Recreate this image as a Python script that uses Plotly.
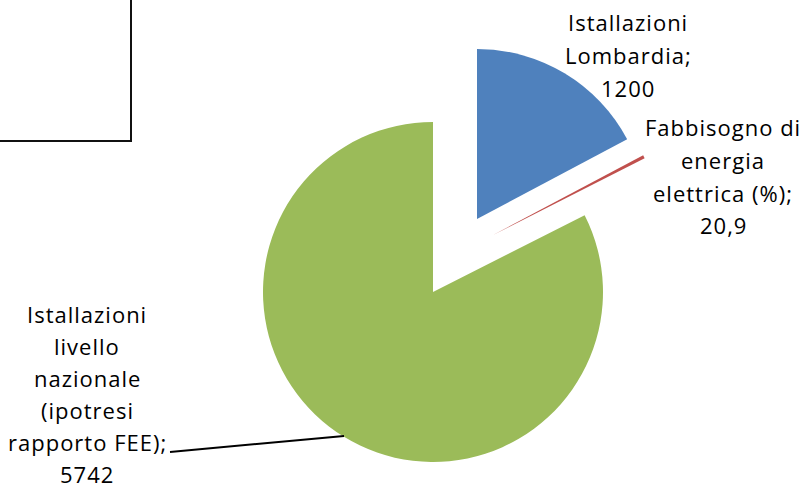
import plotly.graph_objects as go

# ---- data ----
categories = ["Istallazioni Lombardia",
              "Fabbisogno di energia elettrica (%)",
              "Istallazioni livello nazionale (ipotresi rapporto FEE)"]
values = [1200, 20.9, 5742]
value_labels = ["1200", "20,9", "5742"]
label_lines = [["Istallazioni", "Lombardia;"],
               ["Fabbisogno di", "energia", "elettrica (%);"],
               ["Istallazioni", "livello", "nazionale", "(ipotresi", "rapporto FEE);"]]
colors = ["#4F81BD", "#C0504D", "#9BBB59"]

W, H = 803, 488
R = 170
# slice centres (px) - the exploded slices are drawn with shifted centres
centres = [(477, 219), (493, 235), (433, 292)]
# label first-line centres (px) and line pitch
label_pos = [(628, 22, 32.8), (723, 127, 32.8), (87, 313.5, 32.0)]


def domain(cx, cy, r):
    return dict(x=[(cx - r) / W, (cx + r) / W],
                y=[1 - (cy + r) / H, 1 - (cy - r) / H])


fig = go.Figure()
for i, (cx, cy) in enumerate(centres):
    cols = ["rgba(0,0,0,0)"] * len(values)
    cols[i] = colors[i]
    fig.add_trace(go.Pie(
        labels=categories, values=values, sort=False,
        direction="clockwise", rotation=0,
        marker=dict(colors=cols, line=dict(width=0)),
        textinfo="none", hoverinfo="label+value",
        domain=domain(cx, cy, R), showlegend=False,
    ))

for i, (lx, ly, pitch) in enumerate(label_pos):
    lines = label_lines[i] + [value_labels[i]]
    for k, line in enumerate(lines):
        fig.add_annotation(x=lx / W, y=1 - (ly + k * pitch) / H, xref="paper", yref="paper",
                           text='<span style="letter-spacing:1px">' + line + '</span>',
                           showarrow=False, xanchor="center", yanchor="middle",
                           align="center", borderpad=0,
                           font=dict(family="Open Sans", size=22, color="#000"))

# leader line for the large slice label
fig.add_shape(type="line", xref="paper", yref="paper",
              x0=170 / W, y0=1 - 452 / H, x1=344 / W, y1=1 - 436 / H,
              line=dict(color="#000", width=2))

# partially visible frame in top-left corner
fig.add_shape(type="rect", xref="paper", yref="paper",
              x0=-20 / W, y0=1 - 141 / H, x1=131 / W, y1=1 + 20 / H,
              line=dict(color="#111", width=2), fillcolor="rgba(0,0,0,0)")

fig.update_layout(width=W, height=H, margin=dict(l=0, r=0, t=0, b=0),
                  paper_bgcolor="white", plot_bgcolor="white")
fig.write_html("out.html")
